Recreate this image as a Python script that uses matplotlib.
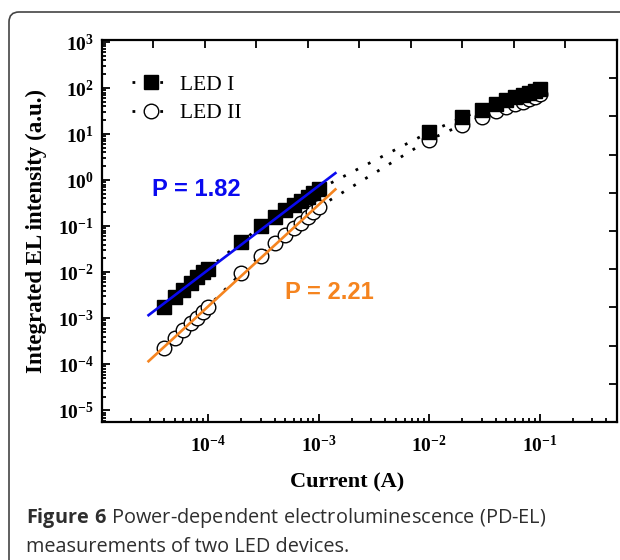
import matplotlib
matplotlib.use("Agg")
import matplotlib.pyplot as plt
from matplotlib.ticker import LogLocator, NullFormatter
from matplotlib.patches import FancyBboxPatch
import numpy as np

plt.rcParams['font.family'] = ['Liberation Serif', 'DejaVu Sans']
plt.rcParams['font.weight'] = 'bold'
plt.rcParams['mathtext.fontset'] = 'custom'
plt.rcParams['mathtext.bf'] = 'Open Sans:bold'

# current (A) for both devices
current = [4e-5, 5e-5, 6e-5, 7e-5, 8e-5, 9e-5, 1e-4, 2e-4, 3e-4, 4e-4, 5e-4,
           6e-4, 7e-4, 8e-4, 9e-4, 1e-3,
           1e-2, 2e-2, 3e-2, 4e-2, 5e-2, 6e-2, 7e-2, 8e-2, 9e-2, 1e-1]
led1 = [1.8e-3, 2.9e-3, 4.2e-3, 5.8e-3, 7.8e-3, 1.0e-2, 1.2e-2, 4.5e-2, 0.10, 0.16, 0.22,
        0.29, 0.36, 0.44, 0.53, 0.63,
        11, 23, 33, 44, 54, 63, 72, 80, 88, 96]
led2 = [2.3e-4, 3.7e-4, 5.5e-4, 7.8e-4, 1.0e-3, 1.35e-3, 1.8e-3, 9.5e-3, 2.3e-2, 4.3e-2, 6.3e-2,
        9.0e-2, 0.12, 0.16, 0.20, 0.26,
        7.5, 16, 24, 31, 38, 44, 51, 58, 65, 73]

# linear fits in log-log (end points)
fit_x = [2.9e-5, 1.42e-3]
fit1_y = [1.17e-3, 1.42]
fit2_y = [1.17e-4, 0.63]
labels = ["LED I", "LED II"]
slopes = ["P = 1.82", "P = 2.21"]

blue = '#0a0af0'
orange = '#f5841f'

fig = plt.figure(figsize=(6.2, 5.6), dpi=100)
ax = fig.add_axes([0.1645, 0.2464, 0.8306, 0.682])

dots = (0, (1, 4))
ax.plot(current, led2, linestyle=dots, lw=2, color='black', marker='o', ms=10.5,
        mfc='white', mec='black', mew=1, label=labels[1], zorder=2)
ax.plot(current, led1, linestyle=dots, lw=2, color='black', marker='s', ms=10.5,
        mfc='black', mec='black', label=labels[0], zorder=3)
ax.plot(fit_x, fit1_y, color=blue, lw=1.9, zorder=4)
ax.plot(fit_x, fit2_y, color=orange, lw=1.9, zorder=4)

ax.text(0.097, 0.61, slopes[0], transform=ax.transAxes, color=blue, fontsize=17,
        family='Liberation Sans', weight='bold', va='center', ha='left')
ax.text(0.355, 0.34, slopes[1], transform=ax.transAxes, color=orange, fontsize=17,
        family='Liberation Sans', weight='bold', va='center', ha='left')

ax.set_xscale('log')
ax.set_yscale('log')
ax.set_xlim(1.1e-5, 0.5)
ax.set_ylim(5.6e-6, 1.1e3)

ax.xaxis.set_major_locator(LogLocator(base=10, numticks=20))
ax.xaxis.set_minor_locator(LogLocator(base=10, subs=np.arange(2, 10), numticks=100))
ax.yaxis.set_major_locator(LogLocator(base=10, numticks=20))
ax.yaxis.set_minor_locator(LogLocator(base=10, subs=np.arange(2, 10), numticks=100))
ax.xaxis.set_minor_formatter(NullFormatter())
ax.yaxis.set_minor_formatter(NullFormatter())

for s in ax.spines.values():
    s.set_linewidth(1.6)
ax.tick_params(which='both', direction='in', top=False, right=False, width=1.3)
ax.tick_params(which='major', length=6, labelsize=14)
ax.tick_params(which='minor', length=3)
ax.tick_params(axis='x', which='major', pad=9)
ax.tick_params(axis='y', which='major', pad=6)

ax.set_xlabel("Current (A)", fontsize=16, fontweight='bold')
ax.set_ylabel("Integrated EL intensity (a.u.)", fontsize=16.5, fontweight='bold')
ax.xaxis.set_label_coords(0.476, -0.132)
ax.yaxis.set_label_coords(-0.107, 0.5)

handles, labs = ax.get_legend_handles_labels()
leg = ax.legend(handles[::-1], labs[::-1], loc='upper left', bbox_to_anchor=(0.02, 0.96),
                frameon=False, handlelength=1.8, handletextpad=0.45, labelspacing=0.4,
                prop={'family': 'Liberation Serif', 'weight': 'normal', 'size': 15.5})

# top / right ticks (not aligned to the log scale, as in the original)
ax2 = fig.add_axes(ax.get_position(), frameon=False)
ax2.set_xlim(0, 1)
ax2.set_ylim(0, 1)
ax2.set_xticks(np.arange(0.1, 0.95, 0.1))
ax2.set_yticks(np.arange(0.1, 0.95, 0.1))
ax2.xaxis.tick_top()
ax2.yaxis.tick_right()
ax2.tick_params(direction='in', length=6, width=1.3, labeltop=False, labelright=False)
ax2.patch.set_visible(False)

# caption
cap_color = '#2e2e2e'
fig.text(26 / 620, 1 - 518 / 560,
         r"$\mathbf{Figure\ 6}$ Power-dependent electroluminescence (PD-EL)",
         fontsize=14.3, family='Open Sans', weight='normal', color=cap_color,
         va='center', ha='left')
fig.text(26 / 620, 1 - 547 / 560, "measurements of two LED devices.", fontsize=14.3,
         family='Open Sans', weight='normal', color=cap_color, va='center', ha='left')

# rounded frame around figure
frame = FancyBboxPatch((0.09, -0.5), 6.6, 5.98, boxstyle="round,pad=0,rounding_size=0.1",
                       transform=fig.dpi_scale_trans, fill=False, ec='#444444', lw=1.2)
fig.add_artist(frame)

fig.savefig("out.png", dpi=100)
